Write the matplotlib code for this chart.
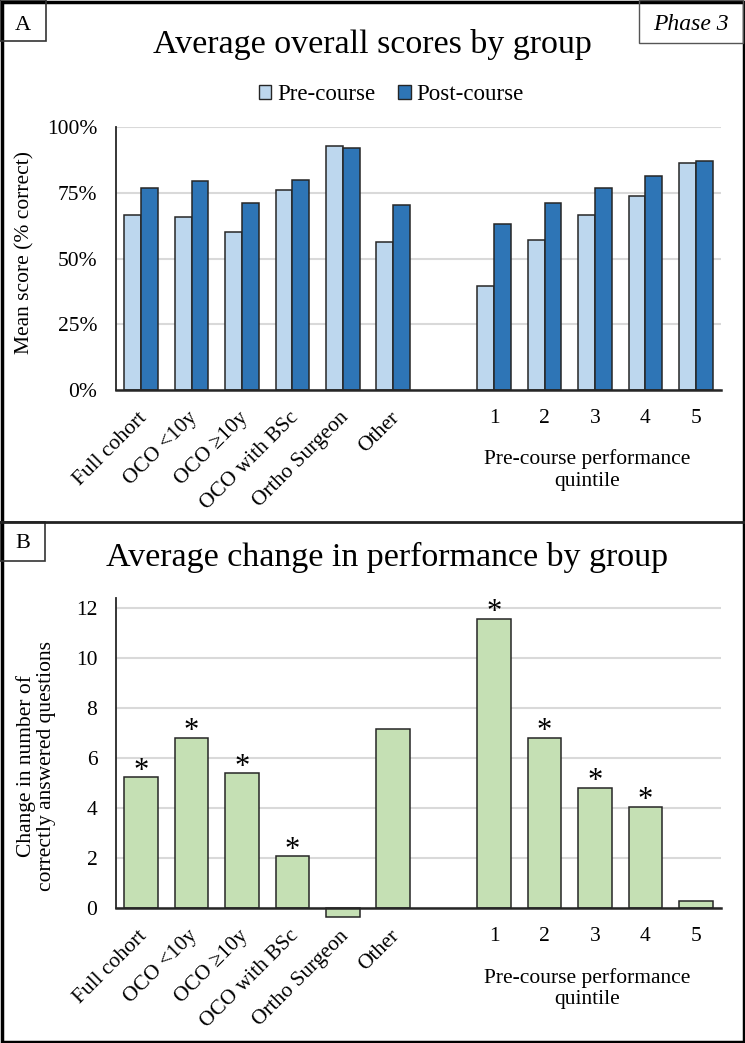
import matplotlib
matplotlib.use("Agg")
import matplotlib.pyplot as plt
from matplotlib.patches import Rectangle, Patch
import matplotlib.transforms as mtransforms

plt.rcParams['font.family'] = ['Liberation Serif', 'DejaVu Serif']

# datos
grupos = ["Full cohort", "OCO <10y", "OCO \u226510y", "OCO with BSc", "Ortho Surgeon", "Other"]
quintiles = ["1", "2", "3", "4", "5"]
pre_grupos = [66.5, 65.8, 60.1, 76.0, 92.7, 56.2]
post_grupos = [76.8, 79.3, 71.2, 80.0, 91.9, 70.3]
pre_quint = [39.7, 57.0, 66.5, 73.6, 86.4]
post_quint = [63.2, 71.2, 76.8, 81.5, 87.1]
cambio_grupos = [5.24, 6.81, 5.40, 2.07, -0.35, 7.15]
cambio_quint = [11.56, 6.81, 4.81, 4.05, 0.31]
signif_grupos = [True, True, True, True, False, False]
signif_quint = [True, True, True, True, False]

W, H = 745, 1043
C_PRE = "#bdd7ee"
C_POST = "#2e75b6"
C_VERDE = "#c5e0b4"
C_BORDE = "#262626"
C_GRID = "#d9d9d9"
FS = 15.5


def fx(px):
    return px / W


def fy(py):
    return 1 - py / H


def caja_ejes(top, bottom):
    return [fx(116), fy(bottom), fx(721) - fx(116), fy(top) - fy(bottom)]


# posiciones: 6 grupos, un hueco, 5 quintiles
pos_grupos = list(range(6))
pos_quint = [7 + i for i in range(5)]

fig = plt.figure(figsize=(W / 100, H / 100), dpi=100)


def estilo(ax, ymin, ymax, ticks, labels):
    ax.set_xlim(-0.5, 11.5)
    ax.set_ylim(ymin, ymax)
    ax.set_yticks(ticks)
    ax.set_yticklabels(labels, fontsize=FS)
    ax.set_xticks([])
    ax.tick_params(axis='y', length=0, pad=13.5)
    for s in ['top', 'right']:
        ax.spines[s].set_visible(False)
    ax.spines['left'].set_color(C_BORDE)
    ax.spines['bottom'].set_color(C_BORDE)
    ax.spines['left'].set_linewidth(1.3)
    ax.spines['bottom'].set_linewidth(1.8)
    ax.yaxis.grid(True, color=C_GRID, linewidth=1.5)
    ax.set_axisbelow(True)


def etiquetas_x(ax, eje_py):
    # etiquetas rotadas para los grupos y numeros para los quintiles
    off = mtransforms.offset_copy(ax.transData, fig=fig, x=3, y=0, units='dots')
    trans_g = mtransforms.blended_transform_factory(off, fig.transFigure)
    for x, lab in zip(pos_grupos, grupos):
        ax.text(x, fy(eje_py + 25), lab, transform=trans_g, rotation=45,
                ha='right', va='center', rotation_mode='anchor', fontsize=FS)
    trans_q = mtransforms.blended_transform_factory(ax.transData, fig.transFigure)
    for x, lab in zip(pos_quint, quintiles):
        ax.text(x, fy(eje_py + 28), lab, transform=trans_q,
                ha='center', va='center', fontsize=FS)
    ax.text(8.85, fy(eje_py + 80), "Pre-course performance\nquintile", transform=trans_q,
            ha='center', va='center', fontsize=FS, linespacing=1.15)


# Panel A
axA = fig.add_axes(caja_ejes(127, 390))
ancho = 1 / 3
axA.bar([p - ancho / 2 for p in pos_grupos], pre_grupos, ancho, color=C_PRE,
        edgecolor=C_BORDE, linewidth=1.1, label="Pre-course")
axA.bar([p + ancho / 2 for p in pos_grupos], post_grupos, ancho, color=C_POST,
        edgecolor=C_BORDE, linewidth=1.1, label="Post-course")
axA.bar([p - ancho / 2 for p in pos_quint], pre_quint, ancho, color=C_PRE,
        edgecolor=C_BORDE, linewidth=1.1)
axA.bar([p + ancho / 2 for p in pos_quint], post_quint, ancho, color=C_POST,
        edgecolor=C_BORDE, linewidth=1.1)
estilo(axA, 0, 100, [0, 25, 50, 75, 100], ["0%", "25%", "50%", "75%", "100%"])
etiquetas_x(axA, 390)
fig.text(fx(25), fy(252), "Mean score (% correct)", rotation=90, ha='center', va='center',
         fontsize=FS)
fig.text(fx(372), fy(44), "Average overall scores by group", ha='center', va='center',
         fontsize=24.5)
handles = [Patch(facecolor=C_PRE, edgecolor=C_BORDE, linewidth=1.0),
           Patch(facecolor=C_POST, edgecolor=C_BORDE, linewidth=1.0)]
fig.legend(handles, ["Pre-course", "Post-course"], loc='center', ncol=2,
           bbox_to_anchor=(fx(391), fy(95)), frameon=False, fontsize=16.5,
           handlelength=0.55, handleheight=0.55, handletextpad=0.25, columnspacing=1.0,
           borderpad=0)

# Panel B
axB = fig.add_axes(caja_ejes(598, 908.3))
axB.bar(pos_grupos, cambio_grupos, 2 / 3, color=C_VERDE, edgecolor=C_BORDE,
        linewidth=1.1, clip_on=False)
axB.bar(pos_quint, cambio_quint, 2 / 3, color=C_VERDE, edgecolor=C_BORDE,
        linewidth=1.1, clip_on=False)
estilo(axB, 0, 12.4, [0, 2, 4, 6, 8, 10, 12], ["0", "2", "4", "6", "8", "10", "12"])
axB.spines['bottom'].set_zorder(5)
for x, v, s in zip(pos_grupos + pos_quint, cambio_grupos + cambio_quint,
                   signif_grupos + signif_quint):
    if s:
        axB.annotate("*", (x, v), xytext=(0, -6), textcoords='offset points',
                     ha='center', va='bottom', fontsize=22)
etiquetas_x(axB, 908.3)
fig.text(fx(36), fy(766), "Change in number of\ncorrectly answered questions", rotation=90,
         ha='center', va='center', fontsize=FS, linespacing=1.05)
fig.text(fx(387), fy(557), "Average change in performance by group", ha='center',
         va='center', fontsize=24.5)

# marcos y cajas de texto
fig.patches.append(Rectangle((fx(1.5), fy(1041.5)), fx(742), fy(0) - fy(1040),
                             transform=fig.transFigure, fill=False, edgecolor='black',
                             linewidth=2.5))
fig.add_artist(plt.Line2D([0, 1], [fy(521.5), fy(521.5)], transform=fig.transFigure,
                          color='#222222', linewidth=2))
fig.patches.append(Rectangle((fx(0), fy(41)), fx(46), fy(0) - fy(41), transform=fig.transFigure,
                             fill=False, edgecolor='#333333', linewidth=1.2))
fig.text(fx(23), fy(25), "A", ha='center', va='center', fontsize=16)
fig.patches.append(Rectangle((fx(0), fy(561)), fx(45), fy(522) - fy(561),
                             transform=fig.transFigure, fill=False, edgecolor='#333333',
                             linewidth=1.2))
fig.text(fx(23), fy(544), "B", ha='center', va='center', fontsize=16)
fig.patches.append(Rectangle((fx(639), fy(43)), fx(104), fy(0) - fy(43),
                             transform=fig.transFigure, fill=False, edgecolor='#555555',
                             linewidth=1.0))
fig.text(fx(691), fy(25), "Phase 3", ha='center', va='center', fontsize=17, style='italic')

fig.savefig("out.png", dpi=100)
